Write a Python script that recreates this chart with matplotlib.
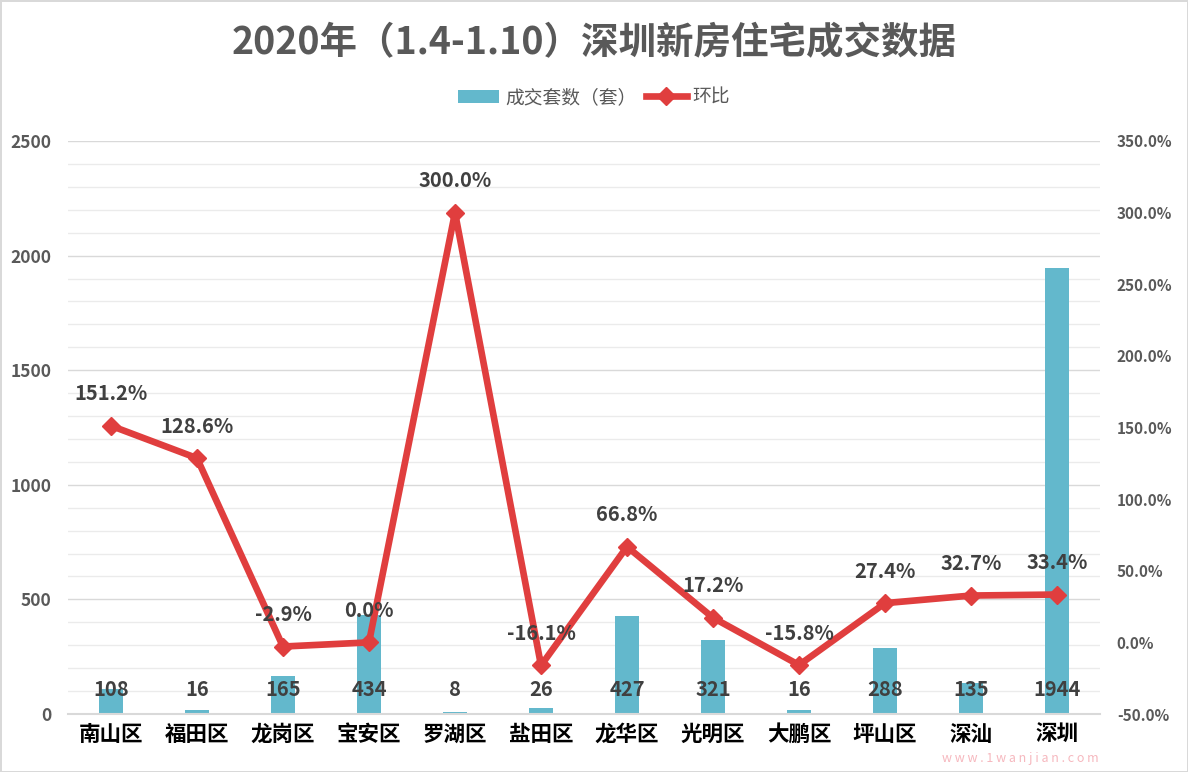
import matplotlib.pyplot as plt
from matplotlib.ticker import MultipleLocator, FuncFormatter

plt.rcParams['font.family'] = ['Noto Sans CJK SC', 'DejaVu Sans']

# 数据
districts = ['南山区', '福田区', '龙岗区', '宝安区', '罗湖区', '盐田区',
             '龙华区', '光明区', '大鹏区', '坪山区', '深汕', '深圳']
units = [108, 16, 165, 434, 8, 26, 427, 321, 16, 288, 135, 1944]
mom = [151.2, 128.6, -2.9, 0.0, 300.0, -16.1, 66.8, 17.2, -15.8, 27.4, 32.7, 33.4]

bar_color = '#63B8CC'
line_color = '#E03E3E'
text_gray = '#595959'

fig = plt.figure(figsize=(11.88, 7.72), dpi=100)
fig.patch.set_edgecolor('#D9D9D9')
fig.patch.set_linewidth(2)
ax = fig.add_axes([0.0572, 0.0751, 0.8688, 0.7423])
ax2 = ax.twinx()

x = list(range(len(districts)))
bars = ax.bar(x, units, width=0.28, color=bar_color, zorder=2, label='成交套数（套）')
ax.set_xlim(-0.5, len(districts) - 0.5)
ax.set_ylim(0, 2500)
ax.yaxis.set_major_locator(MultipleLocator(500))
ax.yaxis.set_minor_locator(MultipleLocator(100))
ax.grid(axis='y', which='major', color='#D9D9D9', linewidth=1, zorder=0)
ax.grid(axis='y', which='minor', color='#EBEBEB', linewidth=1, zorder=0)
ax.set_axisbelow(True)

# 柱子标签（靠近底部）
for xi, v in zip(x, units):
    ax.text(xi, 105, str(v), ha='center', va='center', fontsize=14.5,
            fontweight='bold', color='#404040', zorder=5)

line, = ax2.plot(x, mom, color=line_color, linewidth=4.8, marker='D',
                 markersize=9, zorder=4, label='环比')
ax2.set_ylim(-50, 350)
ax2.yaxis.set_major_locator(MultipleLocator(50))
ax2.yaxis.set_major_formatter(FuncFormatter(lambda v, p: f'{v:.1f}%'))
for xi, v in zip(x, mom):
    ax2.annotate(f'{v:.1f}%', (xi, v), xytext=(0, 23), textcoords='offset points',
                 ha='center', va='center', fontsize=14.5, fontweight='bold',
                 color='#404040', zorder=6)

ax.set_zorder(ax2.get_zorder() - 1)
ax.patch.set_visible(False)
ax2.patch.set_visible(False)

for a in (ax, ax2):
    for s in a.spines.values():
        s.set_visible(False)
ax.spines['bottom'].set_visible(True)
ax.spines['bottom'].set_color('#D9D9D9')
ax.spines['bottom'].set_linewidth(1.5)

ax.set_xticks(x)
ax.set_xticklabels(districts, fontsize=15.5, fontweight='heavy', color='black')
ax.tick_params(axis='x', length=0, pad=7)
ax.tick_params(axis='y', which='both', length=0, labelsize=12.5, labelcolor=text_gray, pad=12)
ax2.tick_params(axis='y', length=0, labelsize=11, labelcolor=text_gray, pad=12)
for lab in ax.get_yticklabels() + ax2.get_yticklabels():
    lab.set_fontweight('bold')

fig.text(0.5, 0.945, '2020年（1.4-1.10）深圳新房住宅成交数据', ha='center', va='center',
         fontsize=27, fontweight='heavy', color=text_gray)
fig.legend(handles=[bars, line], loc='center', bbox_to_anchor=(0.5, 0.874), ncol=2,
           frameon=False, fontsize=13.5, labelcolor=text_gray, handlelength=2.2,
           columnspacing=0.5, handletextpad=0.3)

fig.text(0.925, 0.018, 'w w w . 1 w a n j i a n . c o m', ha='right', va='center',
         fontsize=9, color='#F4A6AE', alpha=0.8)

plt.savefig('out.png', dpi=100)
